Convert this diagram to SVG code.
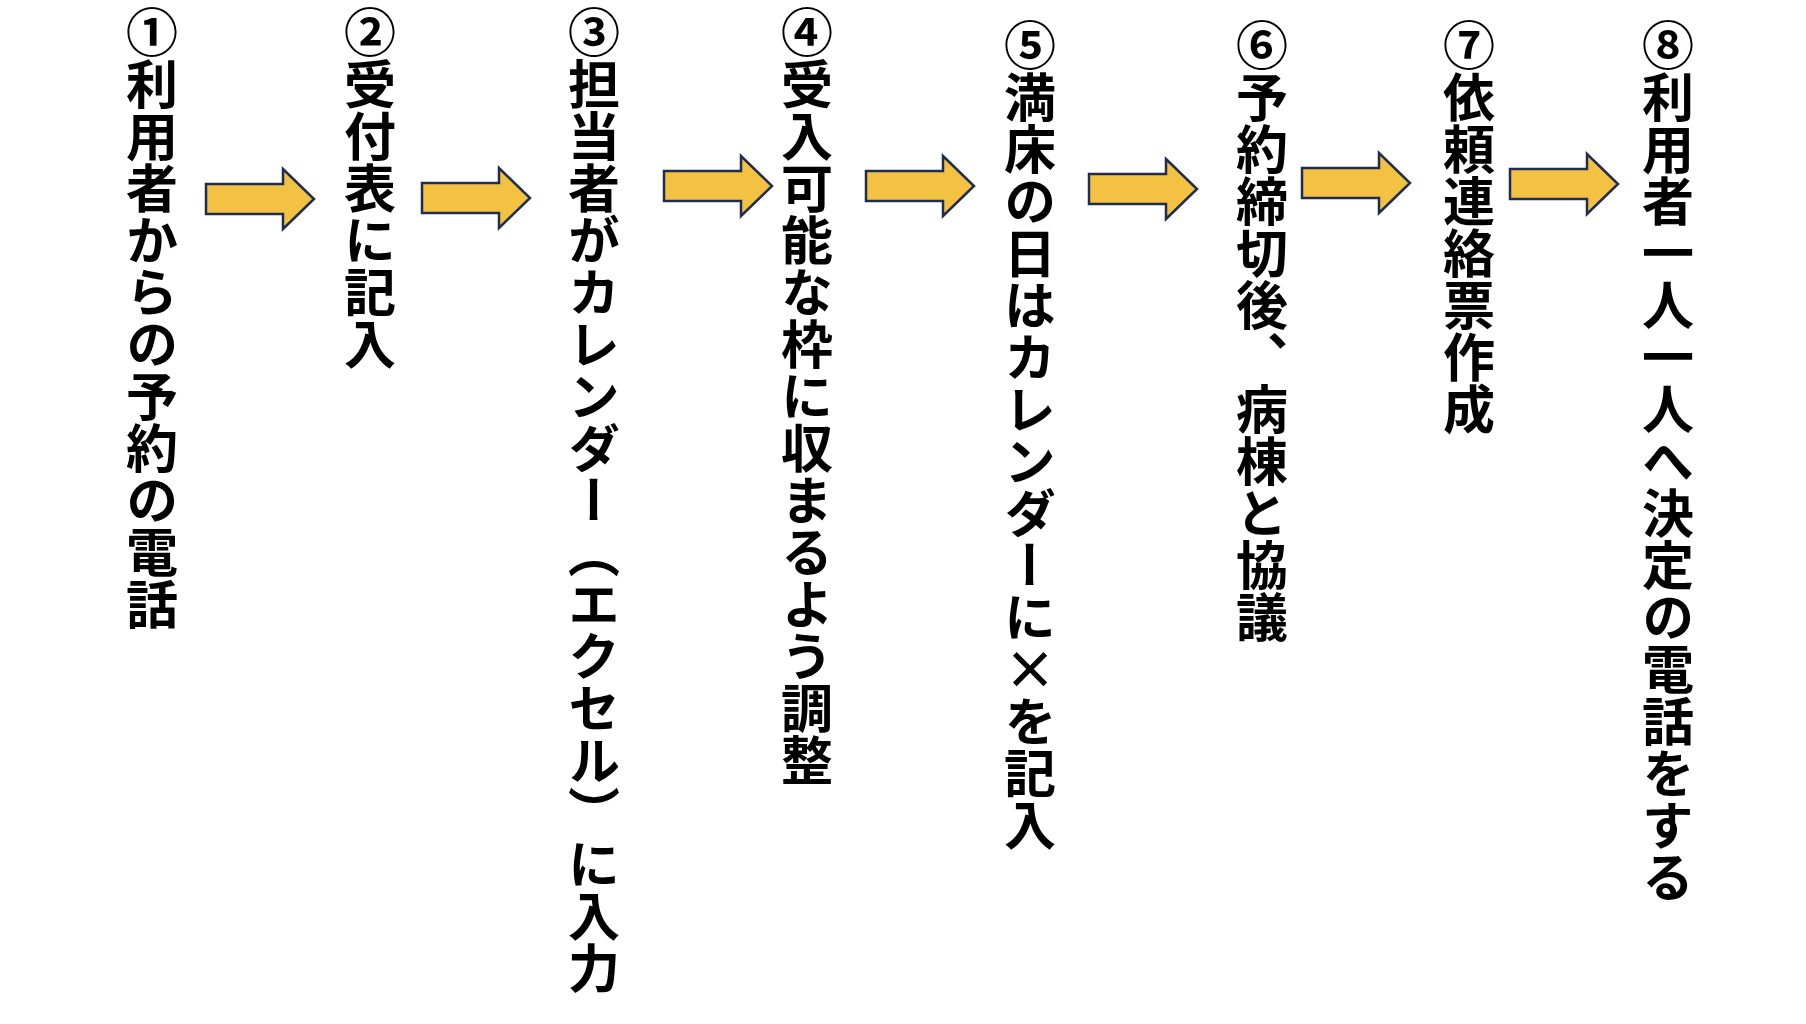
<svg xmlns="http://www.w3.org/2000/svg" width="1806" height="1024" viewBox="0 0 1806 1024">
<style>
.t{font-family:"Noto Sans CJK JP","Noto Sans CJK SC",sans-serif;font-weight:bold;font-size:52px;writing-mode:vertical-rl;fill:#000}
.a{fill:#F4C242;stroke:#1F2D50;stroke-width:2.5}
</style>
<defs><path id="ar" class="a" d="M0,-15 H77 V-30 L108,0 L77,30 V15 H0 Z"/></defs>
<rect width="1806" height="1024" fill="#fff"/>
<g id="n1"><text class="t" x="152" y="6">①利用者からの予約の電話</text></g>
<g id="n2"><text class="t" x="370" y="6">②受付表に記入</text></g>
<g id="n3"><text class="t" x="594" y="6">③担当者がカレンダー（エクセル）に入力</text></g>
<g id="n4"><text class="t" x="807" y="6">④受入可能な枠に収まるよう調整</text></g>
<g id="n5"><text class="t" x="1030" y="19">⑤満床の日はカレンダーに×を記入</text></g>
<g id="n6"><text class="t" x="1262" y="19">⑥予約締切後、病棟と協議</text></g>
<g id="n7"><text class="t" x="1469" y="19">⑦依頼連絡票作成</text></g>
<g id="n8"><text class="t" x="1668" y="19">⑧利用者一人一人へ決定の電話をする</text></g>
<g id="connectors">
<use href="#ar" x="206" y="199"/>
<use href="#ar" x="422" y="198"/>
<use href="#ar" x="664" y="186"/>
<use href="#ar" x="866" y="186"/>
<use href="#ar" x="1089" y="189"/>
<use href="#ar" x="1302" y="183"/>
<use href="#ar" x="1510" y="184"/>
</g>
</svg>
